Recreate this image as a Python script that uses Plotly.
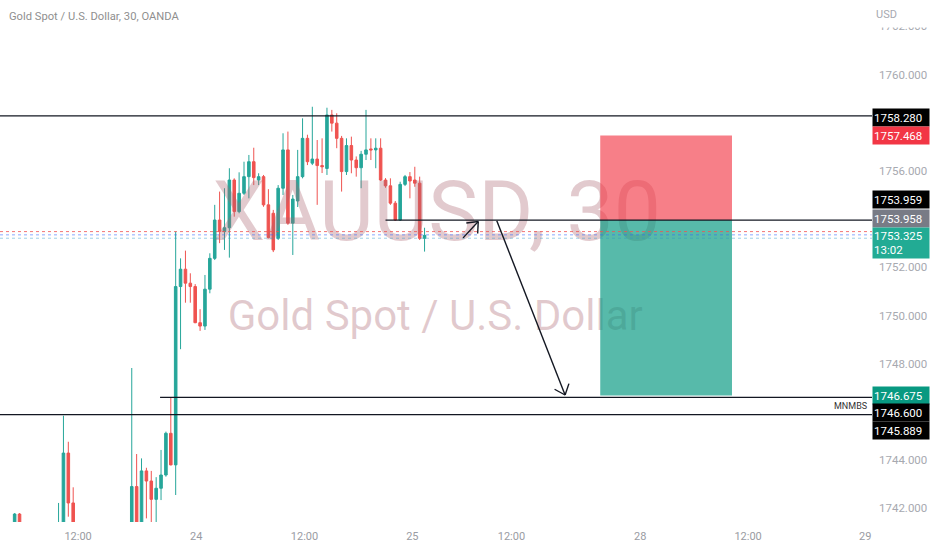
import math
import plotly.graph_objects as go

# ---------------- data (30-minute candles, XAUUSD) ----------------
opens = [1740.2, 1740.5, 1740.3, 1740.9, 1741.76, 1741.1, 1740.7, 1740.4, 1740.6, 1740.9,
         1740.6, 1740.3, 1740.5, 1741.0, 1744.29, 1742.22, 1741.0, 1740.4, 1740.1, 1739.9,
         1740.3, 1740.8, 1740.5, 1740.2, 1740.5, 1740.7, 1740.6, 1740.8, 1742.90, 1741.1,
         1743.55, 1743.13, 1742.37, 1742.83, 1743.38, 1745.11, 1743.80, 1751.20, 1751.92, 1751.34,
         1751.20, 1749.70, 1749.56, 1751.09, 1752.37, 1753.96, 1753.48, 1753.64, 1755.62, 1754.31,
         1755.07, 1755.76, 1756.38, 1755.62, 1755.76, 1754.59, 1754.24, 1753.20, 1755.28, 1756.87,
         1753.83, 1754.75, 1755.76, 1757.35, 1756.32, 1756.49, 1756.22, 1756.10, 1758.32, 1757.98,
         1757.35, 1755.97, 1757.05, 1756.45, 1756.13, 1756.69, 1756.91, 1756.87, 1756.94, 1755.62,
         1755.38, 1754.66, 1753.96, 1755.44, 1755.76, 1755.62, 1755.49, 1753.20]
highs = [1740.8, 1740.9, 1741.0, 1741.8, 1741.8, 1741.3, 1741.0, 1740.8, 1741.2, 1741.3,
         1740.9, 1740.7, 1742.22, 1745.84, 1744.76, 1742.87, 1741.3, 1740.9, 1740.6, 1740.5,
         1741.1, 1741.2, 1740.9, 1740.7, 1741.0, 1741.2, 1741.0, 1747.82, 1744.25, 1744.07,
         1743.68, 1743.55, 1743.29, 1744.42, 1745.18, 1746.60, 1753.48, 1752.37, 1752.69, 1751.75,
         1751.30, 1750.26, 1751.68, 1752.58, 1754.59, 1755.14, 1755.28, 1756.11, 1755.69, 1755.94,
         1756.38, 1756.66, 1756.96, 1755.90, 1755.83, 1755.24, 1754.38, 1755.41, 1757.56, 1757.63,
         1755.00, 1756.87, 1758.18, 1757.50, 1758.66, 1757.28, 1757.35, 1758.62, 1758.53, 1758.39,
         1757.45, 1757.35, 1757.42, 1756.60, 1756.83, 1758.53, 1757.35, 1757.35, 1757.35, 1755.70,
         1755.69, 1754.75, 1755.55, 1755.83, 1755.95, 1756.17, 1755.76, 1753.64]
lows = [1739.9, 1740.1, 1740.2, 1740.7, 1741.0, 1740.6, 1740.2, 1740.0, 1740.4, 1740.5,
        1740.1, 1739.9, 1740.3, 1740.8, 1741.65, 1740.7, 1740.2, 1739.8, 1739.5, 1739.6,
        1740.0, 1740.3, 1739.9, 1739.7, 1740.1, 1740.4, 1740.2, 1740.6, 1740.9, 1741.0,
        1741.58, 1741.3, 1741.35, 1742.34, 1743.31, 1743.78, 1742.55, 1748.60, 1750.53, 1750.53,
        1749.68, 1749.36, 1749.40, 1750.92, 1752.30, 1753.00, 1752.72, 1752.40, 1754.10, 1754.24,
        1755.00, 1754.86, 1755.41, 1755.41, 1754.51, 1753.20, 1752.63, 1753.13, 1755.00, 1753.76,
        1752.51, 1754.50, 1755.69, 1756.24, 1756.24, 1754.59, 1755.91, 1755.83, 1757.63, 1756.94,
        1755.14, 1755.83, 1755.90, 1755.76, 1755.28, 1756.45, 1756.45, 1756.11, 1755.58, 1755.30,
        1754.59, 1753.92, 1753.92, 1755.37, 1754.86, 1755.34, 1753.13, 1752.65]
closes = [1740.5, 1740.3, 1740.9, 1741.76, 1741.1, 1740.7, 1740.4, 1740.6, 1740.9, 1740.6,
          1740.3, 1740.5, 1741.0, 1744.29, 1742.22, 1741.0, 1740.4, 1740.1, 1739.9, 1740.3,
          1740.8, 1740.5, 1740.2, 1740.5, 1740.7, 1740.6, 1740.8, 1742.90, 1741.1, 1743.55,
          1743.13, 1742.37, 1742.83, 1743.38, 1745.11, 1743.80, 1751.20, 1751.92, 1751.34, 1751.20,
          1749.70, 1749.56, 1751.09, 1752.37, 1753.96, 1753.48, 1753.64, 1755.62, 1754.31, 1755.07,
          1755.76, 1756.38, 1755.72, 1755.76, 1754.59, 1753.23, 1752.72, 1755.28, 1756.87, 1753.83,
          1754.83, 1755.76, 1757.35, 1756.38, 1756.49, 1756.22, 1756.17, 1758.32, 1757.98, 1757.35,
          1755.97, 1757.05, 1756.45, 1756.13, 1756.69, 1756.87, 1756.87, 1756.94, 1755.62, 1755.38,
          1754.66, 1753.96, 1755.44, 1755.76, 1755.58, 1755.49, 1753.20, 1753.325]
bars = list(range(len(opens)))

time_tick_pos = [16.0, 40.2, 62.4, 84.5, 104.8, 131.2, 153.3, 177.3]
time_tick_text = ["12:00", "24", "12:00", "25", "12:00", "28", "12:00", "29"]
# price-scale ticks that are not hidden behind the level labels
price_ticks = [1742, 1744, 1748, 1750, 1752, 1756, 1760, 1762]

# drawn levels: price, first bar (None = from left edge)
level_prices = [1758.280, 1753.959, 1746.600, 1745.889]
level_start = [None, 79.0, 32.8, None]
mnmbs_price = 1746.25

# short position tool
pos_entry = 1753.958
pos_stop = 1757.468
pos_target = 1746.675
pos_bars = [123.0, 150.0]

last_price = 1753.325
ask_price = 1753.48
countdown = "13:02"

# analyst arrows (bar, price): tail -> tip
arrow_tails = [(94.9, 1753.22), (101.8, 1753.93)]
arrow_tips = [(98.0, 1753.90), (115.8, 1746.70)]

# ---------------- geometry ----------------
W, H = 932, 550
ML, MR, MT, MB = 0, 60, 0, 28
XR = [0.0, 178.69]
YR = [1741.43, 1763.09]
px_bar = (W - ML - MR) / (XR[1] - XR[0])
px_price = (H - MT - MB) / (YR[1] - YR[0])

FONT = "Roboto, Liberation Sans, sans-serif"
UP = "#26a69a"
DOWN = "#ef5350"

fig = go.Figure()

# watermark (behind candles)
fig.add_trace(go.Scatter(x=[89.5], y=[1754.0], mode="text", text=["XAUUSD, 30"],
                         textfont=dict(size=84, color="rgba(170,100,110,0.34)", family=FONT),
                         hoverinfo="skip", showlegend=False, cliponaxis=False))
fig.add_trace(go.Scatter(x=[89.2], y=[1749.85], mode="text", text=["Gold Spot / U.S. Dollar"],
                         textfont=dict(size=42, color="rgba(170,100,110,0.34)", family=FONT),
                         hoverinfo="skip", showlegend=False, cliponaxis=False))

fig.add_trace(go.Candlestick(
    x=bars, open=opens, high=highs, low=lows, close=closes,
    increasing=dict(line=dict(color=UP, width=1), fillcolor=UP),
    decreasing=dict(line=dict(color=DOWN, width=1), fillcolor=DOWN),
    whiskerwidth=0, showlegend=False, hoverinfo="skip"))

shapes = []
# position boxes (semi-transparent, above watermark)
shapes.append(dict(type="rect", xref="x", yref="y", x0=pos_bars[0], x1=pos_bars[1],
                   y0=pos_entry, y1=pos_stop, fillcolor="rgba(242,54,69,0.64)",
                   line=dict(width=0), layer="above"))
shapes.append(dict(type="rect", xref="x", yref="y", x0=pos_bars[0], x1=pos_bars[1],
                   y0=pos_target, y1=pos_entry, fillcolor="rgba(8,153,129,0.68)",
                   line=dict(width=0), layer="above"))

# current-price dotted lines
shapes.append(dict(type="line", xref="paper", yref="y", x0=0, x1=1, y0=ask_price, y1=ask_price,
                   line=dict(color="rgba(239,83,80,0.8)", width=1, dash="dot"), layer="above"))
shapes.append(dict(type="line", xref="paper", yref="y", x0=0, x1=1, y0=last_price + 0.02, y1=last_price + 0.02,
                   line=dict(color="rgba(41,98,255,0.55)", width=1, dash="dot"), layer="above"))
shapes.append(dict(type="line", xref="paper", yref="y", x0=0, x1=1, y0=last_price - 0.12, y1=last_price - 0.12,
                   line=dict(color="rgba(41,150,200,0.45)", width=1, dash="dot"), layer="above"))

# horizontal levels
for p, s in zip(level_prices, level_start):
    x0 = XR[0] if s is None else s
    shapes.append(dict(type="line", xref="x", yref="y", x0=x0, x1=XR[1], y0=p, y1=p,
                       line=dict(color="#131722", width=1.2), layer="above"))

# arrows with open V heads
for (tx, ty), (hx, hy) in zip(arrow_tails, arrow_tips):
    shapes.append(dict(type="line", xref="x", yref="y", x0=tx, y0=ty, x1=hx, y1=hy,
                       line=dict(color="#131722", width=1.4), layer="above"))
    dxp = (tx - hx) * px_bar
    dyp = (ty - hy) * px_price
    ang = math.atan2(dyp, dxp)
    for sgn in (-1, 1):
        a = ang + sgn * math.radians(40)
        ex = hx + 12 * math.cos(a) / px_bar
        ey = hy + 12 * math.sin(a) / px_price
        shapes.append(dict(type="line", xref="x", yref="y", x0=hx, y0=hy, x1=ex, y1=ey,
                           line=dict(color="#131722", width=1.4), layer="above"))

annotations = []
annotations.append(dict(text="Gold Spot / U.S. Dollar, 30, OANDA", xref="paper", yref="paper",
                        x=0, y=1, xanchor="left", yanchor="top", xshift=7, yshift=-8,
                        showarrow=False, font=dict(size=11.2, color="#8f8f8f", family=FONT)))
annotations.append(dict(text="USD", xref="paper", yref="paper", x=1, y=1, xanchor="left",
                        yanchor="top", xshift=2, showarrow=False, bgcolor="white",
                        width=56, height=24, align="left", borderpad=1,
                        font=dict(size=11, color="#a7a9b0", family=FONT)))
annotations.append(dict(text="MNMBS", xref="paper", yref="y", x=0.996, y=mnmbs_price,
                        xanchor="right", yanchor="middle", showarrow=False,
                        font=dict(size=9, color="#333333", family=FONT)))

# price-scale labels: (text, price, bg colour, y shift in px, height)
scale_labels = [
    ("1758.280", 1758.280, "#000000", -1.5, 15),
    ("1757.468", pos_stop, "#f23645", -0.5, 15),
    ("1753.959", 1753.959, "#000000", 21, 15),
    ("1753.958", pos_entry, "#787b86", 2, 15),
    ("1753.325<br>" + countdown, last_price, "#22ab94", -7.6, 28),
    ("1746.675", pos_target, "#089981", 0.6, 15),
    ("1746.600", 1746.600, "#000000", -15, 15),
    ("1745.889", 1745.889, "#000000", -15.5, 15),
]
for txt, p, bg, sh, hh in scale_labels:
    annotations.append(dict(text=txt, xref="paper", yref="y", x=1, y=p, xanchor="left",
                            yanchor="middle", yshift=sh, showarrow=False, bgcolor=bg,
                            width=54, height=hh, align="left", borderpad=1,
                            font=dict(size=11.5, color="white", family=FONT)))

fig.update_layout(
    width=W, height=H, margin=dict(l=ML, r=MR, t=MT, b=MB, autoexpand=False),
    paper_bgcolor="white", plot_bgcolor="white",
    shapes=shapes, annotations=annotations, boxgap=0.25,
    xaxis=dict(range=XR, showgrid=False, zeroline=False, showline=False, ticks="",
               automargin=False, ticklabelstandoff=6,
               tickvals=time_tick_pos, ticktext=time_tick_text, rangeslider=dict(visible=False),
               tickfont=dict(size=11, color="#9a9ca3", family=FONT), fixedrange=True),
    yaxis=dict(range=YR, side="right", showgrid=False, zeroline=False, showline=False, ticks="",
               automargin=False,
               tickvals=price_ticks, tickformat=".3f", ticklabelstandoff=6,
               tickfont=dict(size=11.5, color="#a7a9b0", family=FONT), fixedrange=True),
    showlegend=False,
)

fig.write_html("out.html", config={"displayModeBar": False},
               post_script="document.body.style.margin='0';document.body.style.overflow='hidden';")
